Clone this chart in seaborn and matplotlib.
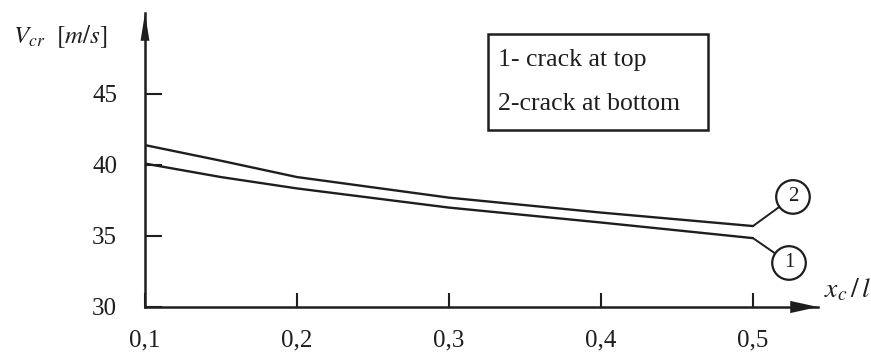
import matplotlib
matplotlib.use("Agg")
import matplotlib.pyplot as plt
import seaborn as sns
import pandas as pd
from matplotlib.patches import Rectangle

# ---- data ----
x_ratio = [0.1, 0.15, 0.2, 0.3, 0.4, 0.5]
v_top = [40.1, 39.15, 38.35, 37.0, 35.95, 34.85]      # 1 - crack at top
v_bottom = [41.4, 40.3, 39.15, 37.7, 36.65, 35.7]     # 2 - crack at bottom
x_ticks = [0.1, 0.2, 0.3, 0.4, 0.5]
x_tick_labels = ["0,1", "0,2", "0,3", "0,4", "0,5"]
y_ticks = [30, 35, 40, 45]
y_tick_labels = ["30", "35", "40", "45"]
legend_lines = ["1- crack at top", "2-crack at bottom"]

df = pd.DataFrame({
    "x": x_ratio * 2,
    "v": v_top + v_bottom,
    "case": ["1"] * len(x_ratio) + ["2"] * len(x_ratio),
})

sns.set_style("ticks")
plt.rcParams["font.family"] = ["Liberation Serif", "DejaVu Serif"]
plt.rcParams["mathtext.fontset"] = "stix"

W, H = 871, 352
fig = plt.figure(figsize=(W / 100, H / 100), dpi=100)
ax = fig.add_axes([145 / W, 45 / H, 673 / W, 294 / H])

ink = "#1e1e1e"
sns.lineplot(data=df, x="x", y="v", hue="case", palette=[ink, ink],
             linewidth=1.7, legend=False, ax=ax)

xmax = 0.1 + 673 / 1520
ymax = 30 + 294 / 14.2
ax.set_xlim(0.1, xmax)
ax.set_ylim(30, ymax)

for s in ["top", "right"]:
    ax.spines[s].set_visible(False)
for s in ["left", "bottom"]:
    ax.spines[s].set_linewidth(1.8)
    ax.spines[s].set_color(ink)

ax.set_xticks(x_ticks)
ax.set_xticklabels(x_tick_labels)
ax.set_yticks(y_ticks)
ax.set_yticklabels(y_tick_labels)
ax.tick_params(axis="y", direction="in", length=12, width=1.5, pad=20,
               labelsize=18, colors=ink)
ax.tick_params(axis="x", direction="in", length=10, width=1.5, pad=16,
               labelsize=18, colors=ink)
ax.set_xlabel("")
ax.set_ylabel("")

# axis arrowheads
ax.annotate("", xy=(xmax, 30), xytext=(xmax - 0.03, 30),
            arrowprops=dict(arrowstyle="-|>,head_length=1.0,head_width=0.22",
                            mutation_scale=20, color=ink, lw=0,
                            shrinkA=0, shrinkB=0), annotation_clip=False)
ax.annotate("", xy=(0.1, ymax), xytext=(0.1, ymax - 2),
            arrowprops=dict(arrowstyle="-|>,head_length=1.0,head_width=0.16",
                            mutation_scale=20, color=ink, lw=0,
                            shrinkA=0, shrinkB=0), annotation_clip=False)

# numbered circles with leader lines
circ = dict(boxstyle="circle,pad=0.35", fc="white", ec=ink, lw=1.6)
ax.annotate("2", xy=(x_ratio[-1], v_bottom[-1]), xytext=(0.5263, 37.75),
            ha="center", va="center", fontsize=15, color=ink, bbox=circ,
            arrowprops=dict(arrowstyle="-", color=ink, lw=1.4,
                            shrinkA=0, shrinkB=0),
            annotation_clip=False)
ax.annotate("1", xy=(x_ratio[-1], v_top[-1]), xytext=(0.5237, 33.1),
            ha="center", va="center", fontsize=15, color=ink, bbox=circ,
            arrowprops=dict(arrowstyle="-", color=ink, lw=1.4,
                            shrinkA=0, shrinkB=0),
            annotation_clip=False)

# legend box
x0, x1 = (488 - 145) / 673, (708 - 145) / 673
y0, y1 = (307 - 130) / 294, (307 - 34) / 294
ax.add_patch(Rectangle((x0, y0), x1 - x0, y1 - y0, transform=ax.transAxes,
                       fill=False, ec=ink, lw=1.8, clip_on=False))
ax.text(0.5245, (307 - 60) / 294, legend_lines[0], transform=ax.transAxes,
        ha="left", va="center", fontsize=18.5, color=ink)
ax.text(0.5245, (307 - 104) / 294, legend_lines[1], transform=ax.transAxes,
        ha="left", va="center", fontsize=18.5, color=ink)

# axis labels
fig.text(13 / W, (H - 43) / H, r"$V_{cr}$  $[m/s]$", ha="left",
         va="baseline", fontsize=18, color=ink)
fig.text(824 / W, (H - 297) / H, r"$x_c\,/\,l$", ha="left",
         va="baseline", fontsize=20, color=ink)

fig.savefig("out.png", dpi=100)
